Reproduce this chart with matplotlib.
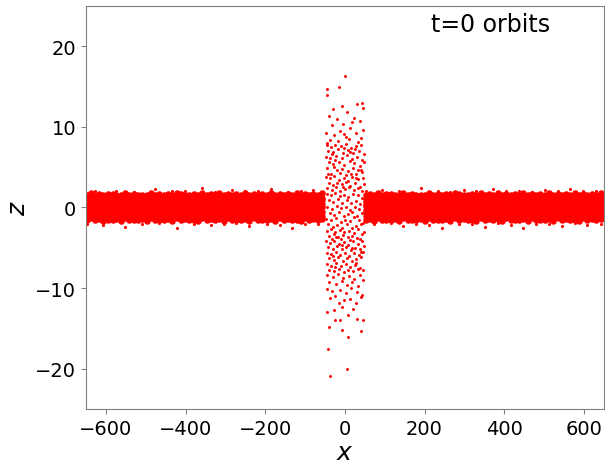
import numpy as np
import matplotlib
matplotlib.use("Agg")
import matplotlib.pyplot as plt

# thin disc band: (x, z values in that strip)
band_left = [
    (-648, [-1.6, -1.1, -0.7, -0.3, 0.2, 0.7, 1.1, 1.5, -2.0]),
    (-638, [-1.3, -1.0, -0.4, -0.1, 0.5, 0.9, 1.3, 1.8]),
    (-627, [-1.5, -1.1, -0.8, -0.3, 0.1, 0.7, 1.2, 1.5, 2.1]),
    (-616, [-1.4, -0.9, -0.5, 0.0, 0.4, 0.8, 1.3, 1.7]),
    (-606, [-1.7, -1.2, -0.6, -0.2, 0.3, 0.6, 1.0, 1.6, -2.2]),
    (-595, [-1.5, -0.9, -0.5, 0.0, 0.3, 0.8, 1.4, 1.7]),
    (-583, [-1.6, -1.2, -0.7, -0.2, 0.2, 0.6, 1.1, 1.7]),
    (-574, [-1.4, -1.0, -0.6, 0.1, 0.4, 0.9, 1.2, 1.6, 2.0]),
    (-562, [-1.7, -1.1, -0.6, -0.3, 0.2, 0.7, 1.0, 1.5]),
    (-551, [-1.3, -0.9, -0.4, 0.0, 0.5, 0.8, 1.3, 1.8, -2.4]),
    (-541, [-1.6, -1.2, -0.8, -0.2, 0.1, 0.6, 1.2, 1.6]),
    (-530, [-1.5, -1.0, -0.5, -0.1, 0.4, 0.9, 1.4, 1.7, 1.9]),
    (-519, [-1.6, -1.1, -0.7, -0.3, 0.3, 0.7, 1.1, 1.5]),
    (-509, [-1.4, -0.9, -0.6, 0.0, 0.3, 0.8, 1.3, 1.6, -2.1]),
    (-497, [-1.7, -1.2, -0.7, -0.2, 0.2, 0.6, 1.0, 1.6]),
    (-487, [-1.3, -1.0, -0.5, 0.1, 0.5, 0.9, 1.2, 1.8]),
    (-476, [-1.6, -1.1, -0.6, -0.3, 0.1, 0.7, 1.1, 1.5, 2.3]),
    (-466, [-1.5, -0.9, -0.4, -0.1, 0.4, 0.8, 1.4, 1.7, -1.9]),
    (-454, [-1.6, -1.2, -0.8, -0.2, 0.2, 0.6, 1.2, 1.6]),
    (-443, [-1.4, -1.0, -0.5, 0.0, 0.4, 0.9, 1.3, 1.7]),
    (-433, [-1.7, -1.1, -0.7, -0.3, 0.3, 0.7, 1.0, 1.5, 2.0]),
    (-422, [-1.3, -0.9, -0.5, 0.1, 0.3, 0.8, 1.3, 1.8, -2.6]),
    (-412, [-1.5, -1.2, -0.6, -0.2, 0.2, 0.6, 1.1, 1.7]),
    (-401, [-1.4, -1.0, -0.4, 0.0, 0.5, 0.9, 1.2, 1.6, 2.1]),
    (-390, [-1.6, -1.1, -0.7, -0.3, 0.1, 0.7, 1.1, 1.5]),
    (-379, [-1.5, -0.9, -0.6, -0.1, 0.4, 0.8, 1.4, 1.7, -2.0]),
    (-369, [-1.7, -1.2, -0.8, -0.2, 0.2, 0.6, 1.2, 1.6]),
    (-358, [-1.3, -1.0, -0.5, 0.0, 0.5, 0.9, 1.3, 1.8, 2.4]),
    (-347, [-1.6, -1.1, -0.6, -0.3, 0.3, 0.7, 1.0, 1.5]),
    (-337, [-1.4, -0.9, -0.4, 0.1, 0.4, 0.8, 1.3, 1.7, -2.2]),
    (-325, [-1.5, -1.2, -0.7, -0.2, 0.2, 0.6, 1.1, 1.6, 1.9]),
    (-315, [-1.4, -1.0, -0.5, 0.0, 0.3, 0.9, 1.2, 1.8]),
    (-304, [-1.7, -1.1, -0.7, -0.3, 0.1, 0.7, 1.1, 1.5, -2.1]),
    (-293, [-1.3, -0.9, -0.6, -0.1, 0.5, 0.8, 1.4, 1.7]),
    (-283, [-1.6, -1.2, -0.8, -0.2, 0.2, 0.6, 1.2, 1.6, 2.2]),
    (-272, [-1.5, -1.0, -0.4, 0.0, 0.4, 0.9, 1.3, 1.7, -1.9]),
    (-261, [-1.6, -1.1, -0.6, -0.3, 0.3, 0.7, 1.0, 1.5]),
    (-250, [-1.4, -0.9, -0.5, 0.1, 0.4, 0.8, 1.3, 1.8, 2.0]),
    (-240, [-1.7, -1.2, -0.7, -0.2, 0.1, 0.6, 1.1, 1.6, -2.3]),
    (-229, [-1.3, -1.0, -0.5, 0.0, 0.5, 0.9, 1.2, 1.7]),
    (-218, [-1.6, -1.1, -0.8, -0.3, 0.2, 0.7, 1.1, 1.5, 2.1]),
    (-208, [-1.5, -0.9, -0.4, -0.1, 0.3, 0.8, 1.4, 1.7]),
    (-196, [-1.6, -1.2, -0.6, -0.2, 0.2, 0.6, 1.2, 1.6, -2.0]),
    (-186, [-1.4, -1.0, -0.5, 0.1, 0.4, 0.9, 1.3, 1.8, 2.3]),
    (-175, [-1.7, -1.1, -0.7, -0.3, 0.3, 0.7, 1.0, 1.5]),
    (-164, [-1.3, -0.9, -0.6, 0.0, 0.5, 0.8, 1.3, 1.7, -2.2]),
    (-153, [-1.5, -1.2, -0.7, -0.2, 0.1, 0.6, 1.1, 1.6]),
    (-143, [-1.4, -1.0, -0.4, 0.0, 0.4, 0.9, 1.2, 1.7, 1.9]),
    (-132, [-1.6, -1.1, -0.8, -0.3, 0.2, 0.7, 1.1, 1.5, -2.5]),
    (-121, [-1.5, -0.9, -0.5, -0.1, 0.3, 0.8, 1.4, 1.8]),
    (-111, [-1.7, -1.2, -0.6, -0.2, 0.2, 0.6, 1.2, 1.6, 2.0]),
    (-100, [-1.3, -1.0, -0.5, 0.1, 0.5, 0.9, 1.3, 1.7, -2.0]),
    (-89, [-1.6, -1.1, -0.7, -0.3, 0.3, 0.7, 1.0, 1.5]),
    (-79, [-1.4, -0.9, -0.4, 0.0, 0.4, 0.8, 1.3, 1.7, 2.2]),
    (-68, [-1.5, -1.2, -0.8, -0.2, 0.1, 0.6, 1.1, 1.6, -2.1]),
    (-58, [-1.4, -1.0, -0.5, 0.0, 0.4, 0.9, 1.2, 1.8]),
]

band_right = [
    (52, [-1.6, -1.1, -0.6, -0.3, 0.2, 0.7, 1.1, 1.5, 2.0]),
    (62, [-1.4, -0.9, -0.5, 0.1, 0.4, 0.8, 1.3, 1.7]),
    (72, [-1.7, -1.2, -0.7, -0.2, 0.3, 0.6, 1.0, 1.6, -2.1]),
    (83, [-1.3, -1.0, -0.4, 0.0, 0.5, 0.9, 1.4, 1.8]),
    (94, [-1.5, -1.1, -0.8, -0.3, 0.1, 0.7, 1.2, 1.5, 2.2]),
    (104, [-1.5, -0.9, -0.5, -0.1, 0.3, 0.8, 1.3, 1.7]),
    (115, [-1.6, -1.2, -0.7, -0.2, 0.2, 0.6, 1.1, 1.7, -1.9]),
    (126, [-1.4, -1.0, -0.6, 0.0, 0.4, 0.9, 1.2, 1.6]),
    (137, [-1.7, -1.1, -0.6, -0.3, 0.2, 0.7, 1.0, 1.5, 2.1]),
    (147, [-1.3, -0.9, -0.4, 0.1, 0.5, 0.8, 1.3, 1.8, -2.3]),
    (158, [-1.6, -1.2, -0.8, -0.2, 0.1, 0.6, 1.2, 1.6]),
    (169, [-1.5, -1.0, -0.5, -0.1, 0.4, 0.9, 1.4, 1.7]),
    (179, [-1.6, -1.1, -0.7, -0.3, 0.3, 0.7, 1.1, 1.5, -2.0]),
    (190, [-1.4, -0.9, -0.6, 0.0, 0.3, 0.8, 1.3, 1.6, 2.4]),
    (201, [-1.7, -1.2, -0.7, -0.2, 0.2, 0.6, 1.0, 1.6]),
    (212, [-1.3, -1.0, -0.5, 0.1, 0.5, 0.9, 1.2, 1.8, -2.2]),
    (222, [-1.6, -1.1, -0.6, -0.3, 0.1, 0.7, 1.1, 1.5]),
    (233, [-1.5, -0.9, -0.4, -0.1, 0.4, 0.8, 1.4, 1.7, 2.0]),
    (244, [-1.6, -1.2, -0.8, -0.2, 0.2, 0.6, 1.2, 1.6, -2.6]),
    (255, [-1.4, -1.0, -0.5, 0.0, 0.4, 0.9, 1.3, 1.7]),
    (265, [-1.7, -1.1, -0.7, -0.3, 0.3, 0.7, 1.0, 1.5, 1.9]),
    (276, [-1.3, -0.9, -0.5, 0.1, 0.3, 0.8, 1.3, 1.8]),
    (287, [-1.5, -1.2, -0.6, -0.2, 0.2, 0.6, 1.1, 1.7, -2.1]),
    (298, [-1.4, -1.0, -0.4, 0.0, 0.5, 0.9, 1.2, 1.6, 2.2]),
    (308, [-1.6, -1.1, -0.7, -0.3, 0.1, 0.7, 1.1, 1.5]),
    (319, [-1.5, -0.9, -0.6, -0.1, 0.4, 0.8, 1.4, 1.7, -2.0]),
    (330, [-1.7, -1.2, -0.8, -0.2, 0.2, 0.6, 1.2, 1.6, 2.1]),
    (341, [-1.3, -1.0, -0.5, 0.0, 0.5, 0.9, 1.3, 1.8]),
    (351, [-1.6, -1.1, -0.6, -0.3, 0.3, 0.7, 1.0, 1.5, -2.4]),
    (362, [-1.4, -0.9, -0.4, 0.1, 0.4, 0.8, 1.3, 1.7]),
    (373, [-1.5, -1.2, -0.7, -0.2, 0.2, 0.6, 1.1, 1.6, 2.3]),
    (384, [-1.4, -1.0, -0.5, 0.0, 0.3, 0.9, 1.2, 1.8, -1.9]),
    (394, [-1.7, -1.1, -0.7, -0.3, 0.1, 0.7, 1.1, 1.5]),
    (405, [-1.3, -0.9, -0.6, -0.1, 0.5, 0.8, 1.4, 1.7, 2.0]),
    (416, [-1.6, -1.2, -0.8, -0.2, 0.2, 0.6, 1.2, 1.6, -2.2]),
    (427, [-1.5, -1.0, -0.4, 0.0, 0.4, 0.9, 1.3, 1.7]),
    (437, [-1.6, -1.1, -0.6, -0.3, 0.3, 0.7, 1.0, 1.5, 2.1]),
    (448, [-1.4, -0.9, -0.5, 0.1, 0.4, 0.8, 1.3, 1.8, -2.5]),
    (459, [-1.7, -1.2, -0.7, -0.2, 0.1, 0.6, 1.1, 1.6]),
    (470, [-1.3, -1.0, -0.5, 0.0, 0.5, 0.9, 1.2, 1.7, 1.9]),
    (480, [-1.6, -1.1, -0.8, -0.3, 0.2, 0.7, 1.1, 1.5, -2.0]),
    (491, [-1.5, -0.9, -0.4, -0.1, 0.3, 0.8, 1.4, 1.7]),
    (502, [-1.6, -1.2, -0.6, -0.2, 0.2, 0.6, 1.2, 1.6, 2.2]),
    (513, [-1.4, -1.0, -0.5, 0.1, 0.4, 0.9, 1.3, 1.8, -2.1]),
    (523, [-1.7, -1.1, -0.7, -0.3, 0.3, 0.7, 1.0, 1.5]),
    (534, [-1.3, -0.9, -0.6, 0.0, 0.5, 0.8, 1.3, 1.7, 2.0]),
    (545, [-1.5, -1.2, -0.7, -0.2, 0.1, 0.6, 1.1, 1.6, -2.3]),
    (556, [-1.4, -1.0, -0.4, 0.0, 0.4, 0.9, 1.2, 1.7]),
    (566, [-1.6, -1.1, -0.8, -0.3, 0.2, 0.7, 1.1, 1.5, 2.3]),
    (577, [-1.5, -0.9, -0.5, -0.1, 0.3, 0.8, 1.4, 1.8, -1.9]),
    (588, [-1.7, -1.2, -0.6, -0.2, 0.2, 0.6, 1.2, 1.6]),
    (599, [-1.3, -1.0, -0.5, 0.1, 0.5, 0.9, 1.3, 1.7, 2.1]),
    (609, [-1.6, -1.1, -0.7, -0.3, 0.3, 0.7, 1.0, 1.5, -2.2]),
    (620, [-1.4, -0.9, -0.4, 0.0, 0.4, 0.8, 1.3, 1.7]),
    (631, [-1.5, -1.2, -0.8, -0.2, 0.1, 0.6, 1.1, 1.6, 2.0]),
    (642, [-1.4, -1.0, -0.5, 0.0, 0.3, 0.9, 1.2, 1.8, -2.0]),
]

# the vertical group of orbits near x = 0: (x, z)
column_pts = [
    (0, 16.3), (-45, 14.7), (-15, 15.0), (42, 13.0), (-45, 13.9), (-8, 12.6), (30, 12.9), (46, 12.4), (-30, 12.2),
    (-40, 11.4), (-20, 11.0), (5, 11.8), (22, 11.1), (38, 10.7), (-33, 10.2), (-5, 10.4), (14, 9.9), (45, 9.6),
    (-47, 9.3), (-26, 9.0), (-12, 9.5), (2, 8.8), (28, 9.2), (40, 8.6), (-38, 8.4), (-18, 8.2), (10, 8.5),
    (33, 8.1), (-44, 8.0), (19, 10.6), (-2, 9.1),
    (-46, 7.8), (-35, 7.5), (-24, 7.7), (-10, 7.6), (3, 7.9), (15, 7.4), (27, 7.6), (41, 7.7),
    (-42, 7.0), (-29, 6.9), (-17, 7.2), (-4, 6.8), (8, 7.1), (21, 6.7), (35, 7.0), (47, 6.6),
    (-48, 6.3), (-37, 6.1), (-21, 6.4), (-8, 6.2), (6, 6.5), (17, 6.0), (31, 6.3), (43, 5.9),
    (-40, 5.6), (-31, 5.4), (-14, 5.7), (-1, 5.3), (12, 5.8), (24, 5.5), (38, 5.2), (49, 5.6),
    (-45, 4.9), (-27, 5.0), (-19, 4.6), (-6, 4.8), (9, 4.5), (20, 4.9), (33, 4.7), (44, 4.4),
    (-43, 4.2), (-34, 4.1), (-11, 4.3), (2, 4.0), (16, 4.2), (29, 4.1), (40, 4.6), (-24, 5.9),
    (26, 7.3), (-2, 7.4), (13, 6.9), (-33, 6.6),
    (-47, 3.8), (-38, 3.6), (-26, 3.9), (-15, 3.4), (-3, 3.7), (7, 3.3), (19, 3.8), (32, 3.5), (45, 3.7),
    (-41, 3.0), (-30, 2.8), (-20, 3.1), (-8, 2.9), (4, 3.2), (14, 2.7), (25, 3.0), (37, 2.6), (48, 2.9),
    (-44, 2.4), (-33, 2.2), (-22, 2.5), (-12, 2.1), (0, 2.3), (11, 2.5), (22, 2.2), (34, 2.4), (42, 2.1),
    (-5, 2.6), (28, 3.6),
    (-46, 1.7), (-35, 1.5), (-24, 1.8), (-13, 1.4), (-2, 1.6), (9, 1.3), (21, 1.7), (33, 1.5), (44, 1.2),
    (-40, 0.9), (-29, 0.7), (-17, 1.0), (-6, 0.6), (5, 0.9), (16, 0.5), (28, 0.8), (39, 0.4),
    (-44, 0.1), (-32, -0.2), (-20, 0.2), (-9, -0.1), (2, 0.0), (13, -0.3), (25, 0.1), (36, -0.2), (47, 0.3),
    (-37, -0.7), (-26, -0.9), (-14, -0.6), (-3, -1.0), (8, -0.8), (19, -0.5), (31, -1.1), (43, -0.7),
    (-47, -1.4), (-34, -1.6), (-22, -1.3), (-10, -1.8), (1, -1.5), (12, -1.7), (24, -1.2), (36, -1.6), (46, -1.9),
    (-42, -2.1), (-31, -2.4), (-19, -2.2), (-7, -2.5), (5, -2.1), (17, -2.6), (29, -2.3), (41, -2.0),
    (-46, -2.9), (-36, -2.7), (-25, -3.0), (-13, -2.8), (-1, -3.1), (10, -2.9), (22, -3.2), (34, -2.7), (47, -3.0),
    (-40, -3.5), (-28, -3.3), (-16, -3.6), (-4, -3.4), (7, -3.7), (19, -3.5), (31, -3.8), (43, -3.3),
    (-33, -3.9), (-9, -3.9), (14, -4.0), (38, -3.9), (-21, -3.7),
    (-47, -4.2), (-37, -4.4), (-26, -4.1), (-14, -4.5), (-3, -4.3), (8, -4.6), (20, -4.2), (32, -4.5), (44, -4.1),
    (-42, -4.9), (-31, -5.1), (-19, -4.8), (-8, -5.2), (3, -4.9), (15, -5.3), (26, -5.0), (38, -5.2), (49, -4.8),
    (-45, -5.6), (-34, -5.8), (-23, -5.5), (-11, -5.9), (0, -5.6), (11, -6.0), (23, -5.7), (35, -5.9), (46, -5.5),
    (-40, -6.3), (-28, -6.5), (-16, -6.2), (-5, -6.6), (6, -6.3), (18, -6.7), (29, -6.4), (41, -6.2),
    (-46, -7.0), (-35, -7.2), (-21, -6.9), (-9, -7.3), (2, -7.0), (13, -7.4), (25, -7.1), (37, -7.5),
    (-39, -7.8), (-27, -7.9), (-14, -7.6), (-2, -8.0), (9, -7.7), (21, -7.9), (33, -7.6), (45, -7.8),
    (-31, -6.0), (17, -5.0), (-7, -4.7), (28, -6.9), (-24, -7.4), (40, -5.5),
    (-44, -8.4), (-30, -8.6), (-17, -8.3), (-4, -8.8), (10, -8.5), (24, -8.9), (38, -8.4),
    (-40, -9.2), (-22, -9.5), (-8, -9.1), (6, -9.6), (19, -9.3), (34, -9.7), (46, -9.0),
    (-46, -10.1), (-33, -10.4), (-12, -10.2), (2, -10.6), (15, -10.0), (30, -10.5), (42, -10.9),
    (-38, -11.2), (-25, -11.0), (-3, -11.5), (12, -11.3), (27, -11.8), (40, -11.1), (-15, -11.9),
    (-45, -13.0), (-28, -12.7), (-6, -12.3), (20, -12.6), (45, -13.9), (-12, -13.9), (8, -13.3), (30, -13.8),
    (-25, -14.0), (-40, -14.8), (40, -15.3), (8, -16.1), (-8, -15.2),
    (-42, -17.6), (-37, -20.9), (5, -20.1),
]

band = band_left + band_right
band_x = np.array([x for x, zs in band for z in zs])
band_z = np.array([z for x, zs in band for z in zs])
col_x = [p[0] for p in column_pts]
col_z = [p[1] for p in column_pts]

# dense core drawn with fatter dots so it reads as solid, stray points small
core = np.abs(band_z) < 1.85

fig = plt.figure(figsize=(6.05, 4.64), dpi=100)
ax = fig.add_axes([0.142, 0.1164, 0.856, 0.8685])

ax.scatter(band_x[core], band_z[core], s=22, c="red", linewidths=0)
ax.scatter(band_x[~core], band_z[~core], s=5, c="red", linewidths=0)
ax.scatter(col_x, col_z, s=4.5, c="red", linewidths=0)

ax.set_xlim(-650, 650)
ax.set_ylim(-25, 25)
ax.set_xlabel("$x$", fontsize=18, labelpad=2)
ax.set_ylabel("$z$", fontsize=18)
ax.tick_params(labelsize=14, color="gray")
for sp in ax.spines.values():
    sp.set_color("gray")

ax.text(0.782, 0.955, "t=0 orbits", transform=ax.transAxes,
        fontsize=17, ha="center", va="center")

fig.savefig("out.png", dpi=100)
